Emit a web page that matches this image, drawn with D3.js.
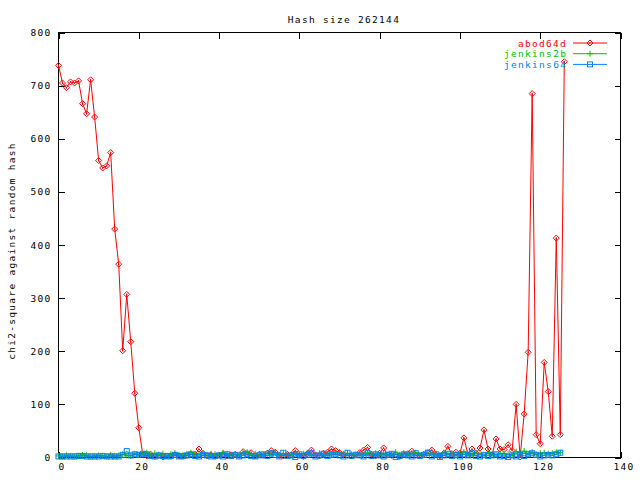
<!DOCTYPE html>
<html>
<head>
<meta charset="utf-8">
<script src="https://cdn.jsdelivr.net/npm/d3@7"></script>
<style>
body { margin:0; background:#fff; }
svg { display:block; }
text { font-family: "DejaVu Sans Mono", monospace; font-size: 9.5px; letter-spacing: 1.3px; fill:#000; }
</style>
</head>
<body>
<svg id="chart" width="640" height="480"></svg>
<script>
const title = "Hash size 262144";
const yLabel = "chi2-square against random hash";
const seriesNames = ["abod64d", "jenkins2b", "jenkins64"];
const seriesColors = ["#ff0000", "#00c000", "#0080ff"];
const xTicks = [0, 20, 40, 60, 80, 100, 120, 140];
const yTicks = [0, 100, 200, 300, 400, 500, 600, 700, 800];

const abod64d = [738,705,696,707,705,709,666,647,711,641,559,545,549,574,430,364,201,307,218,121,56,
  5,3,6,2,4,1,3,2,5,3,2,4,6,6,16,8,3,5,2,4,7,3,5,6,4,11,5,9,3,6,4,8,13,10,4,3,6,5,13,4,2,7,14,5,3,8,10,16,13,9,6,4,3,5,9,14,19,6,3,8,18,5,4,6,2,5,7,12,4,3,6,9,14,5,3,8,21,6,10,8,
  37,5,16,8,18,52,16,5,35,16,15,24,13,100,1,82,198,685,43,26,179,124,40,413,43,745];
const jenkins2b = [3,2,4,3,2,3,5,4,2,3,4,3,2,5,3,4,6,4,3,7,5,6,9,4,8,5,7,3,6,8,5,4,7,9,6,5,8,4,7,6,5,9,7,4,6,5,8,10,6,7,5,4,8,6,9,5,7,4,6,8,5,7,9,6,4,8,5,7,6,9,10,5,8,6,4,7,5,9,6,8,5,7,4,6,10,5,8,6,7,9,5,4,8,6,7,5,9,6,8,4,7,10,5,6,8,7,4,9,6,5,8,7,6,5,11,9,12,7,10,6,8,9,7,8,10,9];
const jenkins64 = [2,2,2,2,2,3,3,2,2,2,2,3,2,2,2,2,5,12,4,6,5,7,6,3,2,4,3,2,3,5,2,3,4,6,3,2,5,4,2,3,4,2,6,3,5,2,4,7,3,2,4,6,3,8,5,2,9,3,4,1,6,3,5,8,2,4,7,3,5,6,4,2,9,3,5,4,2,8,3,6,4,2,5,7,1,3,6,4,2,8,3,5,9,2,6,1,4,7,3,5,2,6,4,8,3,2,5,3,4,6,2,3,1,4,2,5,3,6,8,5,2,4,5,4,6,9];

const series = [abod64d, jenkins2b, jenkins64];
const markers = ["diamond", "plus", "square"];

const svg = d3.select("#chart");
const L = 58.5, R = 620.5, T = 32.5, B = 457.5;
const x = d3.scaleLinear().domain([0, 140]).range([L, R]);
const y = d3.scaleLinear().domain([0, 800]).range([B, T]);

const ax = (g) => g.call(s => s.select(".domain").remove())
  .call(s => s.selectAll("line").attr("stroke", "#000").attr("shape-rendering", "crispEdges"))
  .call(s => s.selectAll("text").attr("font-family", null).attr("font-size", null));

svg.append("g").attr("transform", `translate(0,${B})`)
  .call(d3.axisBottom(x).tickValues(xTicks).tickSizeInner(-6).tickSizeOuter(0).tickPadding(6).tickFormat(d3.format("d")))
  .call(ax).selectAll("text").attr("dx", 3);
svg.append("g").attr("transform", `translate(0,${T})`)
  .call(d3.axisTop(x).tickValues(xTicks).tickSizeInner(-6).tickSizeOuter(0).tickFormat(""))
  .call(ax);
svg.append("g").attr("transform", `translate(${L},0)`)
  .call(d3.axisLeft(y).tickValues(yTicks).tickSizeInner(-6).tickSizeOuter(0).tickPadding(7).tickFormat(d3.format("d")))
  .call(ax);
svg.append("g").attr("transform", `translate(${R},0)`)
  .call(d3.axisRight(y).tickValues(yTicks).tickSizeInner(-6).tickSizeOuter(0).tickFormat(""))
  .call(ax);

svg.append("rect").attr("x", L).attr("y", T).attr("width", R - L).attr("height", B - T)
  .attr("fill", "none").attr("stroke", "#000").attr("shape-rendering", "crispEdges");

svg.append("text").attr("x", 344).attr("y", 23).attr("text-anchor", "middle").text(title);
svg.append("text").attr("transform", "translate(15,251) rotate(-90)").attr("text-anchor", "middle").text(yLabel);

function drawMarker(g, type, cx, cy, color) {
  if (type === "diamond") {
    g.append("path").attr("d", `M${cx},${cy-3}L${cx+3},${cy}L${cx},${cy+3}L${cx-3},${cy}Z M${cx},${cy-0.8}L${cx},${cy+0.8}`)
      .attr("fill", "none").attr("stroke", color).attr("stroke-width", 1);
  } else if (type === "plus") {
    g.append("path").attr("d", `M${cx-3},${cy}L${cx+3},${cy}M${cx},${cy-3}L${cx},${cy+3}`)
      .attr("fill", "none").attr("stroke", color).attr("stroke-width", 1);
  } else {
    g.append("rect").attr("x", cx - 2.5).attr("y", cy - 2.5).attr("width", 5).attr("height", 5)
      .attr("fill", "none").attr("stroke", color).attr("stroke-width", 1);
  }
}

const line = d3.line().x((d, i) => x(i)).y(d => y(d));
series.forEach((data, si) => {
  const g = svg.append("g");
  g.append("path").datum(data).attr("d", line).attr("fill", "none")
    .attr("stroke", seriesColors[si]).attr("stroke-width", 1);
  data.forEach((d, i) => drawMarker(g, markers[si], x(i), y(d), seriesColors[si]));
});

const legY = [43, 53.7, 64.4];
seriesNames.forEach((name, si) => {
  svg.append("text").attr("x", 567 - name.length * 7).attr("y", legY[si] + 3.5).attr("text-anchor", "start")
    .style("fill", seriesColors[si]).text(name);
  svg.append("line").attr("x1", 573).attr("x2", 607).attr("y1", legY[si]).attr("y2", legY[si])
    .attr("stroke", seriesColors[si]).attr("stroke-width", 1);
  drawMarker(svg, markers[si], 590, legY[si], seriesColors[si]);
});
</script>
</body>
</html>
